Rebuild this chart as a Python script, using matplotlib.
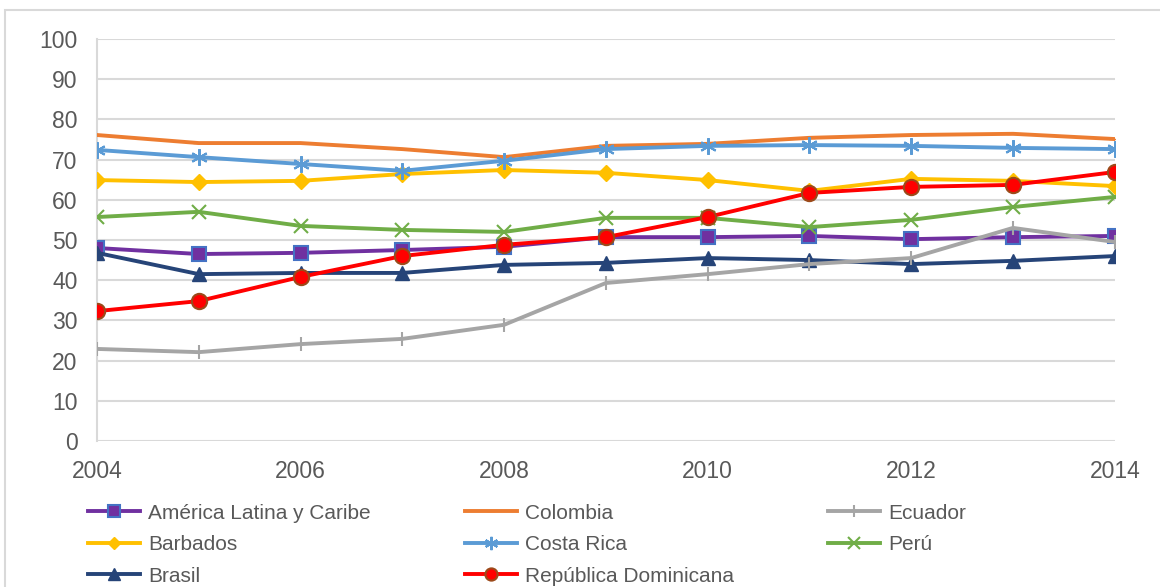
import matplotlib.pyplot as plt
from matplotlib.patches import Rectangle

plt.rcParams['font.family'] = ['Liberation Sans', 'DejaVu Sans']

years = [2004, 2005, 2006, 2007, 2008, 2009, 2010, 2011, 2012, 2013, 2014]

alc = [48.0, 46.5, 46.8, 47.5, 48.3, 50.7, 50.7, 51.0, 50.2, 50.7, 51.0]
barbados = [64.9, 64.4, 64.7, 66.4, 67.4, 66.7, 64.9, 62.2, 65.2, 64.7, 63.4]
brasil = [46.8, 41.5, 41.8, 41.8, 43.8, 44.3, 45.5, 45.0, 44.0, 44.8, 46.0]
colombia = [76.1, 74.1, 74.1, 72.6, 70.6, 73.4, 73.9, 75.4, 76.1, 76.4, 75.1]
costa_rica = [72.4, 70.6, 68.9, 67.2, 69.7, 72.6, 73.4, 73.6, 73.4, 72.9, 72.6]
rep_dom = [32.3, 34.8, 40.8, 46.0, 48.8, 50.7, 55.7, 61.7, 63.2, 63.7, 66.9]
ecuador = [22.9, 22.1, 24.1, 25.4, 28.9, 39.3, 41.5, 44.0, 45.5, 53.0, 49.5]
peru = [55.7, 57.0, 53.5, 52.5, 52.0, 55.5, 55.5, 53.2, 55.0, 58.2, 60.7]

fig = plt.figure(figsize=(11.6, 5.87), dpi=100)
ax = fig.add_axes([0.0836, 0.2487, 0.8774, 0.685])

# chart frame like the Excel chart area
fig.patches.append(Rectangle((5 / 1160, -0.01), 1.02, 1 - 10 / 587 + 0.01,
                             transform=fig.transFigure, fill=False,
                             edgecolor='#d9d9d9', lw=1.5))

lw = 2.8
ax.plot(years, alc, color='#7030A0', lw=lw, marker='s', ms=10,
        mfc='#7030A0', mec='#4472C4', mew=1.5, label='América Latina y Caribe', zorder=3)
ax.plot(years, barbados, color='#FFC000', lw=lw, marker='D', ms=8,
        mfc='#FFC000', mec='#FFC000', label='Barbados', zorder=3)
ax.plot(years, brasil, color='#264478', lw=lw, marker='^', ms=10,
        mfc='#264478', mec='#264478', label='Brasil', zorder=3)
ax.plot(years, colombia, color='#ED7D31', lw=lw, marker='_', ms=8,
        mec='#ED7D31', label='Colombia', zorder=3)
ax.plot(years, costa_rica, color='#5B9BD5', lw=lw, marker=(6, 2, 0), ms=12,
        mec='#5B9BD5', mew=1.5, label='Costa Rica', zorder=3)
ax.plot(years, ecuador, color='#A5A5A5', lw=lw, marker='|', ms=10,
        mec='#A5A5A5', mew=1.5, label='Ecuador', zorder=4)
ax.plot(years, peru, color='#70AD47', lw=lw, marker='x', ms=10,
        mec='#70AD47', mew=1.5, label='Perú', zorder=4)
ax.plot(years, rep_dom, color='#FF0000', lw=lw, marker='o', ms=11,
        mfc='#FF0000', mec='#9C4A1A', mew=1.5, label='República Dominicana', zorder=5)

ax.set_xlim(2004, 2014)
ax.set_ylim(0, 100)
ax.set_xticks([2004, 2006, 2008, 2010, 2012, 2014])
ax.set_yticks(range(0, 101, 10))
ax.tick_params(length=0, labelsize=16.5, labelcolor='#595959')
ax.tick_params(axis='x', pad=14)
ax.tick_params(axis='y', pad=14)
ax.grid(axis='y', color='#d9d9d9', lw=1.5)
ax.set_axisbelow(True)
for s in ['top', 'right', 'bottom']:
    ax.spines[s].set_visible(False)
ax.spines['left'].set_color('#d9d9d9')
ax.spines['left'].set_linewidth(1.5)

handles, labels = ax.get_legend_handles_labels()
order = [0, 1, 2, 3, 4, 7, 5, 6]
ax.legend([handles[i] for i in order], [labels[i] for i in order],
          ncol=3, loc='upper left', bbox_to_anchor=(-0.009, -0.156),
          frameon=False, fontsize=15, labelcolor='#595959', markerscale=0.8,
          handlelength=2.5, handletextpad=0.4, columnspacing=4.5,
          labelspacing=0.6, borderaxespad=0, borderpad=0)

fig.savefig('out.png', dpi=100)
